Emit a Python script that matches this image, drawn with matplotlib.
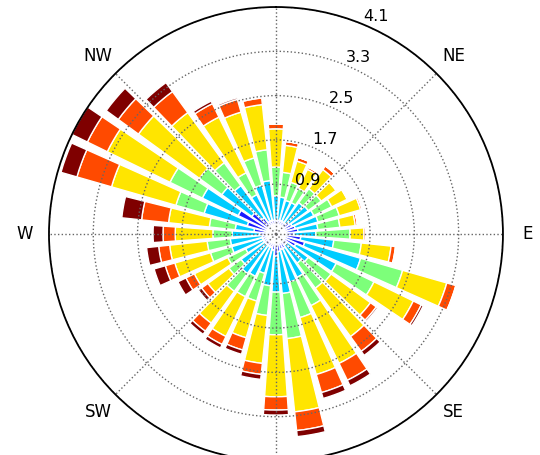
import matplotlib
matplotlib.use("Agg")

import matplotlib.pyplot as plt
import numpy as np

# wind directions (degrees, clockwise from north)
directions = list(range(0, 360, 10))

# frequency (%) per speed class, one value per direction
speed_1 = [0.25, 0.25, 0.25, 0.25, 0.25, 0.29, 0.32, 0.36, 0.40, 0.32,
           0.45, 0.54, 0.40, 0.25, 0.25, 0.29, 0.29, 0.32, 0.40, 0.29,
           0.25, 0.25, 0.25, 0.25, 0.25, 0.25, 0.25, 0.29, 0.40, 0.54,
           0.76, 0.54, 0.36, 0.25, 0.25, 0.25]
speed_2 = [0.44, 0.42, 0.38, 0.38, 0.45, 0.43, 0.44, 0.43, 0.36, 0.40,
           0.60, 1.05, 0.81, 0.47, 0.40, 0.58, 0.61, 0.76, 0.65, 0.65,
           0.49, 0.60, 0.63, 0.53, 0.36, 0.58, 0.58, 0.50, 0.34, 0.81,
           0.72, 0.67, 0.72, 0.54, 0.67, 0.72]
speed_3 = [0.52, 0.45, 0.34, 0.29, 0.31, 0.29, 0.36, 0.40, 0.40, 0.62,
           0.50, 0.79, 0.76, 0.51, 0.56, 0.57, 0.67, 0.82, 0.77, 0.54,
           0.52, 0.41, 0.40, 0.27, 0.36, 0.40, 0.42, 0.35, 0.47, 0.53,
           0.65, 0.50, 0.51, 0.44, 0.51, 0.56]
speed_4 = [0.69, 0.49, 0.40, 0.38, 0.43, 0.33, 0.31, 0.40, 0.28, 0.25,
           0.54, 0.83, 0.79, 0.88, 1.08, 1.16, 1.07, 1.33, 1.12, 0.87,
           0.69, 0.80, 0.71, 0.47, 0.67, 0.67, 0.68, 0.68, 0.74, 1.21,
           1.26, 1.36, 1.12, 1.12, 0.86, 0.82]
speed_5 = [0.09, 0.07, 0.07, 0.04, 0.08, 0.01, 0.01, 0.03, 0.04, 0.03,
           0.08, 0.17, 0.16, 0.13, 0.33, 0.34, 0.34, 0.34, 0.24, 0.20,
           0.23, 0.16, 0.18, 0.14, 0.17, 0.18, 0.20, 0.22, 0.49, 0.65,
           0.40, 0.45, 0.47, 0.27, 0.24, 0.12]
speed_6 = [0.00, 0.00, 0.00, 0.00, 0.00, 0.00, 0.00, 0.01, 0.00, 0.02,
           0.01, 0.01, 0.04, 0.03, 0.09, 0.11, 0.11, 0.11, 0.09, 0.09,
           0.08, 0.07, 0.07, 0.07, 0.16, 0.21, 0.22, 0.18, 0.36, 0.30,
           0.31, 0.27, 0.20, 0.05, 0.03, 0.02]

speed_colors = ["#1a1aff", "#00ccff", "#7dff7a", "#ffe500", "#ff4a00", "#7f0000"]

radii_ticks = [0.9, 1.7, 2.5, 3.3, 4.1]
radii_labels = ["0.9", "1.7", "2.5", "3.3", "4.1"]
# N and S fall outside the visible frame
compass_labels = ["", "NE", "E", "SE", "", "SW", "W", "NW"]


def main() -> None:
    fig = plt.figure(figsize=(5.4, 4.55), dpi=100)
    ax = fig.add_axes([0.0907, -0.0132, 0.8407, 0.9978], projection="polar")
    ax.set_theta_zero_location("N")
    ax.set_theta_direction(-1)

    theta = np.radians(directions)
    width = np.radians(10) * 0.8
    bottom = np.zeros(len(directions))

    for values, color in zip(
        [speed_1, speed_2, speed_3, speed_4, speed_5, speed_6], speed_colors
    ):
        values = np.array(values)
        ax.bar(
            theta,
            values,
            width=width,
            bottom=bottom,
            color=color,
            edgecolor="white",
            linewidth=1,
        )
        bottom += values

    ax.set_ylim(0, 4.1)
    ax.set_thetagrids(range(0, 360, 45), labels=compass_labels, fontsize=12)
    ax.tick_params(axis="x", pad=7)
    ax.set_rgrids(radii_ticks, labels=radii_labels, angle=22.5, fontsize=11.5)
    ax.grid(True, linestyle=":", color="0.4", linewidth=1)
    ax.spines["polar"].set_linewidth(1.3)

    fig.savefig("out.png", dpi=100)
    plt.close(fig)


if __name__ == "__main__":
    main()
